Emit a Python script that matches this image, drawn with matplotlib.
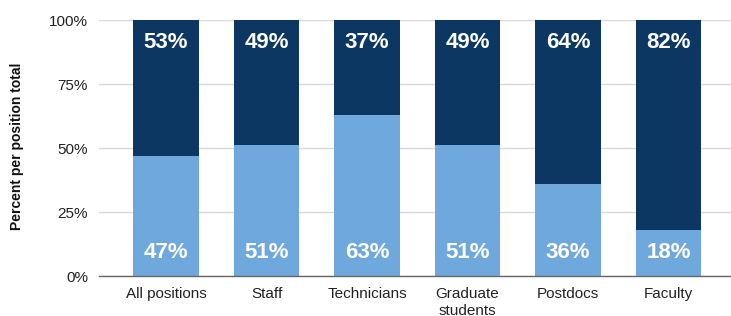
import matplotlib
matplotlib.use("Agg")
import matplotlib.pyplot as plt
import numpy as np

categories = ["All positions", "Staff", "Technicians", "Graduate\nstudents", "Postdocs", "Faculty"]
bottom_vals = [47, 51, 63, 51, 36, 18]
top_vals = [53, 49, 37, 49, 64, 82]
yticks = [0, 25, 50, 75, 100]
ytick_labels = ["0%", "25%", "50%", "75%", "100%"]

plt.rcParams['font.family'] = ['Liberation Sans', 'DejaVu Sans']

fig = plt.figure(figsize=(7.31, 3.16), dpi=100)
ax = fig.add_axes([99/731, 1-276/316, 1-99/731, 256/316])

x = np.arange(len(categories))
light = "#6fa8dc"
dark = "#0b3762"
ax.bar(x, bottom_vals, width=0.65, color=light, zorder=3)
ax.bar(x, top_vals, bottom=bottom_vals, width=0.65, color=dark, zorder=3)

for xi, b, t in zip(x, bottom_vals, top_vals):
    ax.annotate(f"{b}%", (xi, 0), xytext=(0, 23), textcoords="offset pixels",
                ha="center", va="center", color="white", fontsize=16, fontweight="bold", zorder=4)
    ax.annotate(f"{t}%", (xi, 100), xytext=(0, -22), textcoords="offset pixels",
                ha="center", va="center", color="white", fontsize=16, fontweight="bold", zorder=4)

ax.set_xlim(-0.667, 5.62)
ax.set_ylim(0, 100)
ax.set_yticks(yticks)
ax.set_yticklabels(ytick_labels, fontsize=11, color="#222222")
ax.set_xticks(x)
ax.set_xticklabels(categories, fontsize=11, color="#222222", linespacing=1.3)
ax.tick_params(axis="y", length=0, pad=8)
ax.tick_params(axis="x", length=0, pad=8)
ax.yaxis.grid(True, color="#d9d9d9", linewidth=1, zorder=0)
for s in ["top", "right", "left"]:
    ax.spines[s].set_visible(False)
ax.spines["bottom"].set_color("#666666")
ax.spines["bottom"].set_linewidth(1)
ax.spines["bottom"].set_zorder(5)

fig.text(17.5/731, 1-146/316, "Percent per position total", rotation=90, ha="center", va="center",
         fontsize=10, fontweight="bold", color="#111111")

fig.savefig("out.png", dpi=100)
